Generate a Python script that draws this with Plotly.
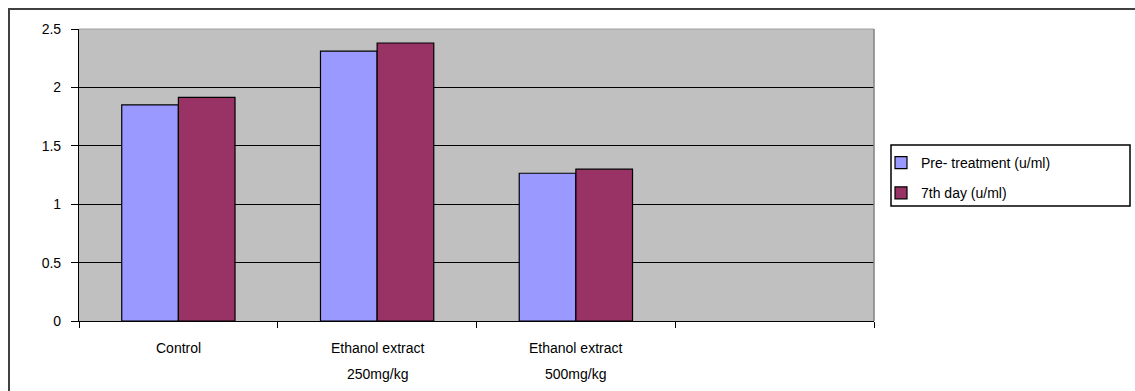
import plotly.graph_objects as go

categories = ["Control", "Ethanol extract 250mg/kg", "Ethanol extract 500mg/kg", " "]
label_line1 = ["Control", "Ethanol extract", "Ethanol extract"]
label_line2 = ["", "250mg/kg", "500mg/kg"]
pre_treatment = [1.85, 2.31, 1.265, None]
day_7 = [1.915, 2.38, 1.30, None]
series_names = ["Pre- treatment (u/ml)", "7th day (u/ml)"]
y_ticks = [0, 0.5, 1, 1.5, 2, 2.5]
y_tick_text = ["0", "0.5", "1", "1.5", "2", "2.5"]

font_family = "Liberation Sans, Arial, sans-serif"

fig = go.Figure()
fig.add_trace(go.Bar(
    x=categories, y=pre_treatment, name=series_names[0], legendgroup="a",
    marker=dict(color="#9999FF", line=dict(color="black", width=1.2)),
))
fig.add_trace(go.Bar(
    x=categories, y=day_7, name=series_names[1], legendgroup="b",
    marker=dict(color="#993366", line=dict(color="black", width=1.2)),
))

W, H = 1135, 391
L, T, R, B = 79, 29, 261, 70
pw, ph = W - L - R, H - T - B


def px_x(p):
    return (p - L) / pw


def px_y(p):
    return (H - B - p) / ph


# two-line category labels under the axis
annotations = []
for cat, l1, l2 in zip(categories, label_line1, label_line2):
    annotations.append(dict(x=cat, xref="x", y=px_y(348), yref="paper", text=l1,
                            showarrow=False, xanchor="center", yanchor="middle",
                            font=dict(size=14)))
    if l2:
        annotations.append(dict(x=cat, xref="x", y=px_y(374), yref="paper", text=l2,
                                showarrow=False, xanchor="center", yanchor="middle",
                                font=dict(size=14)))

fig.update_layout(
    width=W, height=H,
    margin=dict(l=L, r=R, t=T, b=B),
    paper_bgcolor="white",
    plot_bgcolor="#C0C0C0",
    barmode="group",
    bargap=0.43,
    bargroupgap=0,
    font=dict(family=font_family, size=14, color="black"),
    showlegend=True,
    legend=dict(
        x=px_x(881), y=px_y(147),
        xanchor="left", yanchor="top",
        bgcolor="rgba(0,0,0,0)", borderwidth=0,
        font=dict(size=14, family=font_family),
        traceorder="grouped", tracegroupgap=9, itemwidth=30,
    ),
    xaxis=dict(
        type="category", categoryorder="array", categoryarray=categories,
        range=[-0.5, 3.5],
        showline=True, linecolor="black", linewidth=1.2,
        ticks="outside", tickson="boundaries", ticklen=6, tickcolor="black",
        showgrid=False, showticklabels=False,
    ),
    yaxis=dict(
        range=[0, 2.5], tickvals=y_ticks, ticktext=y_tick_text,
        showline=True, linecolor="black", linewidth=1.2,
        ticks="outside", ticklen=7, tickcolor="black",
        showgrid=True, gridcolor="black", gridwidth=1,
        zeroline=False, tickfont=dict(size=14), ticklabelstandoff=7,
    ),
    annotations=annotations,
    shapes=[
        # plot area border: grey right edge and light top edge
        dict(type="line", xref="paper", yref="paper", x0=1, x1=1, y0=0, y1=1,
             line=dict(color="#808080", width=1.5)),
        dict(type="line", xref="paper", yref="paper", x0=0, x1=1, y0=1, y1=1,
             line=dict(color="#A0A0A0", width=1)),
        # legend box
        dict(type="rect", xref="paper", yref="paper",
             x0=px_x(891), x1=px_x(1130), y0=px_y(206), y1=px_y(145),
             line=dict(color="black", width=1.5), fillcolor="white", layer="below"),
        # outer chart border
        dict(type="rect", xref="paper", yref="paper",
             x0=px_x(9), x1=px_x(W + 10), y0=px_y(H + 10), y1=px_y(9),
             line=dict(color="#404040", width=2), layer="below"),
    ],
)

fig.write_html("out.html")
